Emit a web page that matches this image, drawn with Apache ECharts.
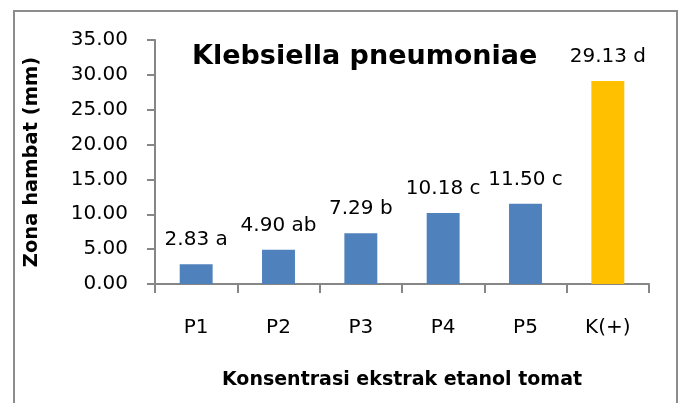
<!DOCTYPE html>
<html><head><meta charset="utf-8">
<script src="https://cdn.jsdelivr.net/npm/echarts@6/dist/echarts.min.js"></script>
<style>html,body{margin:0;padding:0;background:#fff}#c{width:680px;height:403px}</style>
</head><body><div id="c"></div>
<script>
const categories = ['P1','P2','P3','P4','P5','K(+)'];
const values = [2.83, 4.90, 7.29, 10.18, 11.50, 29.13];
const letters = ['a','ab','b','c','c','d'];
const barColors = ['#4F81BD','#4F81BD','#4F81BD','#4F81BD','#4F81BD','#FFC000'];
const yTicks = {min:0, max:35, interval:5};
const FONT = 'DejaVu Sans';

const chart = echarts.init(document.getElementById('c'), null, {renderer:'canvas'});
chart.setOption({
  animation:false,
  backgroundColor:'#fff',
  textStyle:{fontFamily:FONT},
  title:{text:'Klebsiella pneumoniae', left:187, top:38,
    textStyle:{fontFamily:FONT, fontWeight:'bold', fontSize:27, color:'#000'}},
  graphic:[{type:'rect', shape:{x:14,y:11,width:663,height:420},
    style:{fill:'none', stroke:'#8c8c8c', lineWidth:2}, silent:true}],
  grid:{left:155, right:31, top:40, bottom:119},
  xAxis:{type:'category', data:categories,
    name:'Konsentrasi ekstrak etanol tomat', nameLocation:'middle', nameGap:87,
    nameTextStyle:{fontFamily:FONT, fontWeight:'bold', fontSize:19, color:'#000'},
    axisLine:{lineStyle:{color:'#868686', width:2}},
    axisTick:{show:true, length:9, lineStyle:{color:'#868686', width:2}},
    axisLabel:{margin:34, fontSize:20, color:'#000', fontFamily:FONT}},
  yAxis:{type:'value', min:yTicks.min, max:yTicks.max, interval:yTicks.interval,
    name:'Zona hambat (mm)', nameLocation:'middle', nameGap:113, nameRotate:90,
    nameTextStyle:{fontFamily:FONT, fontWeight:'bold', fontSize:19.5, color:'#000'},
    axisLine:{show:true, lineStyle:{color:'#868686', width:2}},
    axisTick:{show:true, length:8, lineStyle:{color:'#868686', width:2}},
    splitLine:{show:false},
    axisLabel:{margin:27, fontSize:20, color:'#000', fontFamily:FONT,
      formatter:v=>v.toFixed(2)}},
  series:[{type:'bar', barCategoryGap:'60%',
    data:values.map((v,i)=>({value:v, itemStyle:{color:barColors[i]}})),
    label:{show:true, position:'top', distance:14, fontSize:20, color:'#000', fontFamily:FONT,
      formatter:p=>p.value.toFixed(2)+' '+letters[p.dataIndex]}}]
});
</script></body></html>
